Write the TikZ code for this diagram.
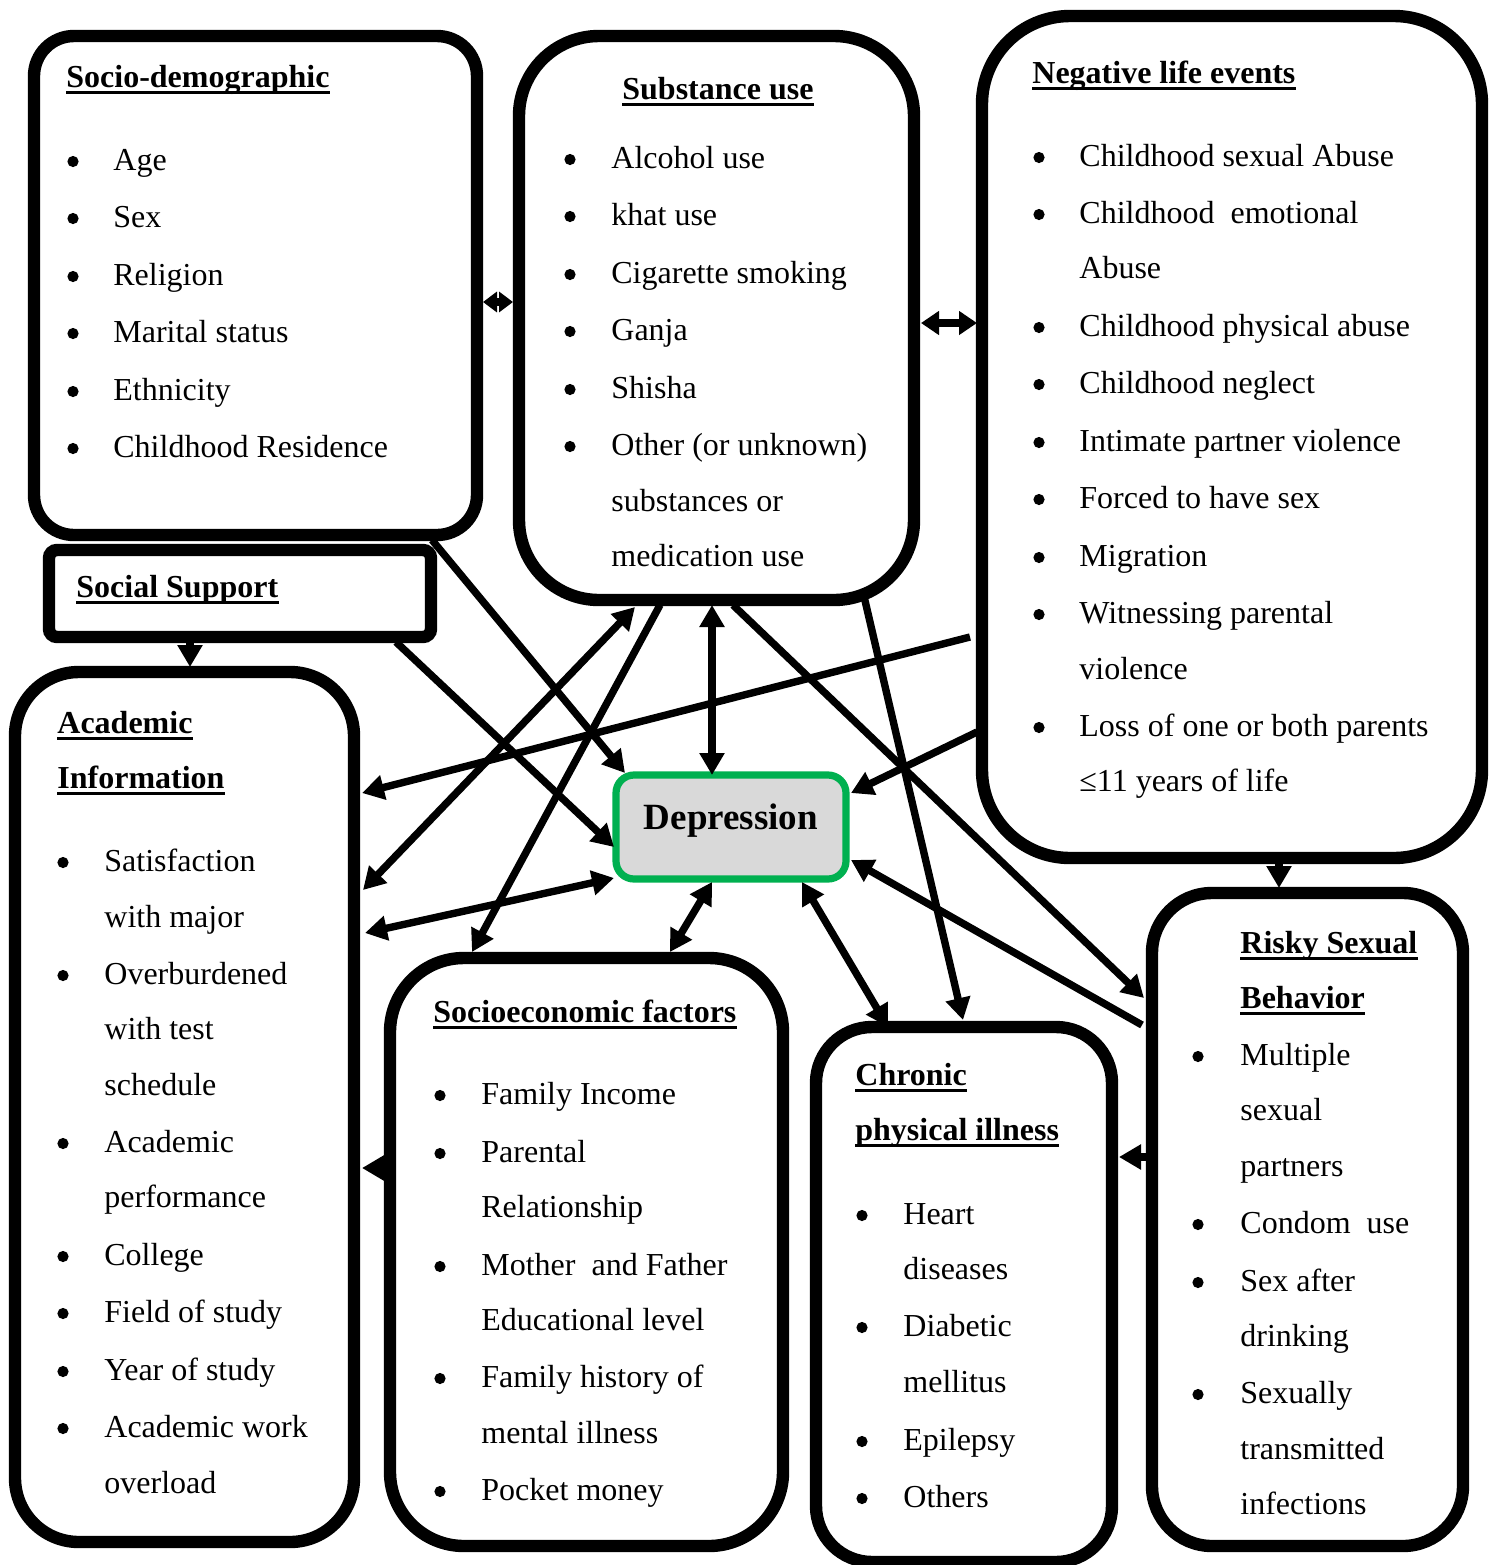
\documentclass[tikz,border=0pt]{standalone}
\usepackage{fontspec}
\setmainfont{Liberation Serif}
\usetikzlibrary{arrows.meta,fit}
\definecolor{depgreen}{HTML}{00B050}
\definecolor{depgray}{HTML}{D9D9D9}
\newcommand\itemlist[4]{%
  \foreach \myY/\myB/\myT [count=\myI] in {#4} {%
    \node[itm] (#1t\myI) at (#3,\myY) {\myT};
    \ifnum\myB=1 \node[bulc] (#1b\myI) at (#2,\myY-8.5) {};\fi
  }}
\begin{document}
\begin{tikzpicture}[x=0.5pt,y=-0.5pt,
  box/.style={draw, line width=6.2pt, inner sep=0pt},
  itm/.style={anchor=base west, inner sep=0pt, font=\fontsize{16}{19}\selectfont},
  bulc/.style={circle, fill, inner sep=0pt, minimum size=5.6pt},
  hd/.style={anchor=base west, inner sep=0pt, font=\fontsize{16}{19}\selectfont\bfseries},
  ul/.style={line width=1.4pt},
  con/.style={line width=3.7pt, -{Triangle[length=11pt,width=12pt]}},
  bi/.style={line width=3.7pt, {Triangle[length=11pt,width=12pt]}-{Triangle[length=11pt,width=12pt]}}
]
\useasboundingbox (0,0) rectangle (1493,1565);

% boxes
\node[box, rounded corners=20pt, fit={(34,36)(477,535)}] (socio) {};
\node[box, rounded corners=40pt, fit={(519,36)(914,600)}] (sub) {};
\node[box, rounded corners=44pt, fit={(982,16)(1482,858)}] (neg) {};
\node[box, rounded corners=4pt, fit={(49,550)(431,637)}] (social) {};
\node[box, rounded corners=32pt, fit={(15,672)(354,1542)}] (acad) {};
\node[box, rounded corners=37pt, fit={(390,958)(783,1546)}] (secon) {};
\node[box, rounded corners=28pt, fit={(816,1027)(1112,1562)}] (chron) {};
\node[box, rounded corners=30pt, fit={(1152,893)(1463,1546)}] (risky) {};
\node[draw=depgreen, fill=depgray, line width=3.6pt, rounded corners=9pt, inner sep=0pt, fit={(616,775)(846,879)}] (dep) {};
\node[anchor=base, inner sep=0pt, font=\fontsize{18.5}{22}\selectfont\bfseries] (deptext) at (731,829) {Depression};

% headings
\node[hd] (h1) at (66,87) {Socio-demographic};
\node[hd] (h2) at (622,99) {Substance use};
\node[hd] (h3) at (1032,83) {Negative life events};
\node[hd] (h4) at (76,597) {Social Support};
\node[hd] (h5a) at (57,733) {Academic};
\node[hd] (h5b) at (57,788) {Information};
\node[hd] (h6) at (433,1022) {Socioeconomic factors};
\node[hd] (h7a) at (855,1085) {Chronic};
\node[hd] (h7b) at (855,1140) {physical illness};
\node[hd] (h8a) at (1240,953) {Risky Sexual};
\node[hd] (h8b) at (1240,1008) {Behavior};
\foreach \h in {h1,h2,h3,h4,h5a,h5b,h6,h7a,h7b,h8a,h8b}
  \draw[ul] ([yshift=-2.6pt]\h.base west) -- ([yshift=-2.6pt]\h.base east);

% lists
\itemlist{so}{73}{113}{170/1/Age, 227/1/Sex, 285/1/Religion, 342/1/Marital status, 400/1/Ethnicity, 457/1/Childhood Residence}
\itemlist{su}{570}{611}{168/1/Alcohol use, 225/1/khat use, 283/1/Cigarette smoking, 340/1/Ganja, 398/1/Shisha, 455/1/Other (or unknown), 511/0/substances or, 566/0/medication use}
\itemlist{ne}{1039}{1079}{166/1/Childhood sexual Abuse, 223/1/{Childhood\ \ emotional}, 278/0/Abuse, 336/1/Childhood physical abuse, 393/1/Childhood neglect, 451/1/Intimate partner violence, 508/1/Forced to have sex, 566/1/Migration, 623/1/Witnessing parental, 679/0/violence, 736/1/Loss of one or both parents, 791/0/≤11 years of life}
\itemlist{ac}{63}{104}{871/1/Satisfaction, 927/0/with major, 984/1/Overburdened, 1039/0/with test, 1095/0/schedule, 1152/1/Academic, 1207/0/performance, 1265/1/College, 1322/1/Field of study, 1380/1/Year of study, 1437/1/Academic work, 1493/0/overload}
\itemlist{se}{440}{481}{1104/1/Family Income, 1162/1/Parental, 1217/0/Relationship, 1275/1/{Mother\ \ and Father}, 1330/0/Educational level, 1387/1/Family history of, 1443/0/mental illness, 1500/1/Pocket money}
\itemlist{ch}{862}{903}{1224/1/Heart, 1279/0/diseases, 1336/1/Diabetic, 1392/0/mellitus, 1450/1/Epilepsy, 1507/1/Others}
\itemlist{ri}{1198}{1240}{1065/1/Multiple, 1120/0/sexual, 1176/0/partners, 1233/1/{Condom\ \ use}, 1291/1/Sex after, 1346/0/drinking, 1403/1/Sexually, 1459/0/transmitted, 1514/0/infections}

% connector end points
\coordinate (soA) at (432,540);   \coordinate (depA) at (625,773);
\coordinate (ssA) at (396,642);   \coordinate (depB) at (614,847);
\coordinate (suA) at (635,607);   \coordinate (acA) at (363,890);
\coordinate (suB) at (660,605);   \coordinate (seA) at (472,952);
\coordinate (suC) at (712,605);   \coordinate (depC) at (712,775);
\coordinate (suD) at (733,605);   \coordinate (riA) at (1144,998);
\coordinate (suE) at (863,592);   \coordinate (chA) at (963,1020);
\coordinate (neA) at (970,637);   \coordinate (acB) at (362,793);
\coordinate (neB) at (977,732);   \coordinate (depD) at (851,793);
\coordinate (acC) at (365,933);   \coordinate (depE) at (614,878);
\coordinate (depF) at (712,882);  \coordinate (seB) at (670,952);
\coordinate (depG) at (802,882);  \coordinate (chB) at (888,1027);
\coordinate (riB) at (1142,1025); \coordinate (depH) at (851,860);
\coordinate (ssB) at (190,642);   \coordinate (acD) at (190,667);
\coordinate (neC) at (1279,860);  \coordinate (riC) at (1279,888);
\coordinate (seC) at (395,1168);  \coordinate (acE) at (362,1168);
\coordinate (riD) at (1146,1157); \coordinate (chC) at (1119,1157);
\coordinate (soB) at (483,302);   \coordinate (suF) at (513,302);
\coordinate (suG) at (921,323);   \coordinate (neD) at (977,323);

% connectors
\draw[con] (soA) -- (depA);
\draw[con] (ssA) -- (depB);
\draw[bi]  (suA) -- (acA);
\draw[con] (suB) -- (seA);
\draw[bi]  (suC) -- (depC);
\draw[con] (suD) -- (riA);
\draw[con] (suE) -- (chA);
\draw[con] (neA) -- (acB);
\draw[con] (neB) -- (depD);
\draw[bi]  (acC) -- (depE);
\draw[bi]  (depF) -- (seB);
\draw[bi]  (depG) -- (chB);
\draw[con] (riB) -- (depH);
\draw[con] (ssB) -- (acD);
\draw[con] (neC) -- (riC);
\draw[con] (seC) -- (acE);
\draw[con] (riD) -- (chC);
\draw[line width=3.7pt, {Triangle[length=7pt,width=10pt]}-{Triangle[length=7pt,width=10pt]}] (soB) -- (suF);
\draw[line width=3.7pt, {Triangle[length=9pt,width=11.5pt]}-{Triangle[length=9pt,width=11.5pt]}] (suG) -- (neD);
\end{tikzpicture}
\end{document}
